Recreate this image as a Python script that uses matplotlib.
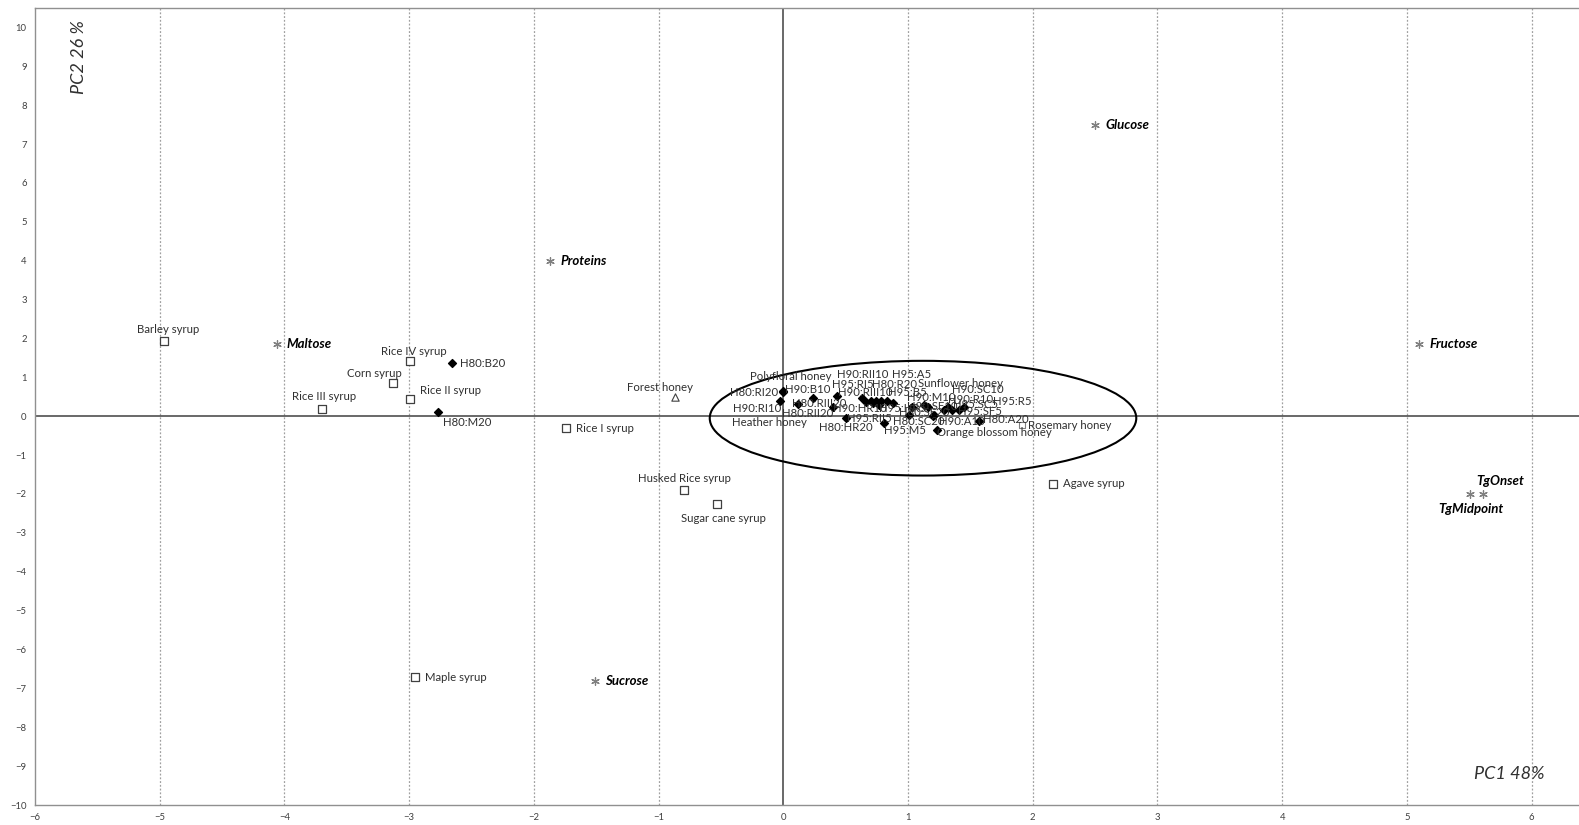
import matplotlib
matplotlib.use("Agg")
import matplotlib.pyplot as plt
from matplotlib.patches import Ellipse

plt.rcParams['font.family'] = ['Lato', 'DejaVu Sans']

# syrups (open squares)
syrup_names = ["Barley syrup", "Rice IV syrup", "Corn syrup", "Rice II syrup", "Rice III syrup",
               "Rice I syrup", "Husked Rice syrup", "Sugar cane syrup", "Agave syrup", "Maple syrup"]
syrup_x = [-4.97, -2.99, -3.13, -2.99, -3.70, -1.74, -0.80, -0.53, 2.16, -2.95]
syrup_y = [1.94, 1.42, 0.85, 0.44, 0.18, -0.31, -1.89, -2.25, -1.74, -6.71]

# other honeys (open marks)
forest_x, forest_y = -0.87, 0.49
rosemary_x, rosemary_y = 1.91, -0.23

# loadings (asterisks)
var_names = ["Glucose", "Proteins", "Maltose", "Fructose", "Sucrose", "TgOnset", "TgMidpoint"]
var_x = [2.50, -1.87, -4.06, 5.10, -1.51, 5.61, 5.51]
var_y = [7.49, 3.99, 1.87, 1.87, -6.81, -1.99, -1.99]

# honeys and honey:syrup blends (filled diamonds)
blend_names = ["H80:B20", "H80:M20",
               "Polyfloral honey", "H80:RI20", "H90:RI10", "Heather honey", "H90:B10",
               "H80:RIII20", "H80:RII20", "H80:HR20", "H90:RII10", "H95:RI5", "H90:RIII10",
               "H80:R20", "H95:A5", "H90:HR10", "H95:RII5", "H95:M5", "H95:HR5", "H95:B5",
               "H80:SC20", "H90:M10", "Sunflower honey", "H90:SF10", "H80:SF20",
               "Orange blossom honey", "H90:SC10", "H90:R10", "H95:SC5", "H95:SF5", "H95:R5",
               "H80:A20", "H90:A10"]
blend_x = [-2.66, -2.77,
           0.00, 0.00, -0.03, 0.12, 0.24,
           0.43, 0.40, 0.50, 0.63, 0.70, 0.74,
           0.78, 0.83, 0.72, 0.66, 0.81, 0.77, 0.88,
           1.01, 1.03, 1.13, 1.16, 1.20,
           1.23, 1.29, 1.32, 1.35, 1.41, 1.45,
           1.57, 1.21]
blend_y = [1.37, 0.10,
           0.66, 0.62, 0.38, 0.31, 0.47,
           0.51, 0.24, -0.05, 0.47, 0.38, 0.38,
           0.38, 0.40, 0.35, 0.36, -0.17, 0.30, 0.33,
           0.04, 0.25, 0.30, 0.25, 0.00,
           -0.35, 0.17, 0.25, 0.17, 0.17, 0.25,
           -0.13, 0.04]

# where each label sits, as (x, y, horizontal alignment)
syrup_lbl = [(-4.93, 2.23, 'center'), (-2.96, 1.66, 'center'), (-3.28, 1.09, 'center'),
             (-2.91, 0.65, 'left'), (-3.68, 0.52, 'center'), (-1.66, -0.31, 'left'),
             (-0.79, -1.61, 'center'), (-0.48, -2.64, 'center'), (2.24, -1.74, 'left'),
             (-2.87, -6.71, 'left')]
var_lbl = [(2.58, 7.49, 'left'), (-1.79, 3.99, 'left'), (-3.98, 1.87, 'left'),
           (5.18, 1.87, 'left'), (-1.43, -6.81, 'left'), (5.94, -1.66, 'right'),
           (5.51, -2.38, 'center')]
blend_lbl = [(-2.59, 1.35, 'left'), (-2.73, -0.16, 'left'),
             (-0.27, 1.02, 'left'), (-0.04, 0.60, 'right'), (-0.02, 0.21, 'right'),
             (-0.41, -0.17, 'left'), (0.01, 0.70, 'left'),
             (0.07, 0.34, 'left'), (-0.01, 0.08, 'left'), (0.29, -0.30, 'left'),
             (0.43, 1.07, 'left'), (0.39, 0.81, 'left'), (0.44, 0.60, 'left'),
             (0.71, 0.81, 'left'), (0.87, 1.07, 'left'), (0.40, 0.19, 'left'),
             (0.51, -0.05, 'left'), (0.81, -0.37, 'left'), (0.77, 0.19, 'left'),
             (0.84, 0.60, 'left'),
             (0.88, -0.13, 'left'), (0.99, 0.47, 'left'), (1.08, 0.84, 'left'),
             (0.99, 0.25, 'left'), (0.93, 0.09, 'left'),
             (1.23, -0.43, 'left'), (1.35, 0.70, 'left'), (1.32, 0.44, 'left'),
             (1.36, 0.30, 'left'), (1.40, 0.12, 'left'), (1.68, 0.38, 'left'),
             (1.60, -0.09, 'left'), (1.25, -0.13, 'left')]

fig = plt.figure(figsize=(15.79, 8.25), dpi=100)
ax = fig.add_axes([0.0222, 0.0242, 0.9778, 0.9661])
ax.set_xlim(-6, 6.38)
ax.set_ylim(-10, 10.5)

# vertical dotted grid and the two zero axes
for gx in range(-5, 7):
    if gx != 0:
        ax.axvline(gx, color='#a0a0a0', lw=0.9, ls=(0, (1.5, 1.5)), zorder=0)
ax.axhline(0, color='#404040', lw=1.1, zorder=1)
ax.axvline(0, color='#404040', lw=1.1, zorder=1)

txt_col = '#303030'
fs = 8.2

ax.scatter(syrup_x, syrup_y, marker='s', s=30, facecolor='white', edgecolor='#404040', lw=0.9, zorder=3)
for name, (lx, ly, ha) in zip(syrup_names, syrup_lbl):
    ax.text(lx, ly, name, fontsize=fs, color=txt_col, ha=ha, va='center')

ax.scatter([forest_x], [forest_y], marker='^', s=28, facecolor='white', edgecolor='#404040', lw=0.8, zorder=3)
ax.text(-0.99, 0.73, "Forest honey", fontsize=fs, color=txt_col, ha='center', va='center')
ax.scatter([rosemary_x], [rosemary_y], marker='s', s=14, facecolor='white', edgecolor='#808080', lw=0.8, zorder=3)
ax.text(1.96, -0.24, "Rosemary honey", fontsize=fs, color=txt_col, ha='left', va='center')

ax.scatter(var_x, var_y, marker=(6, 2, 0), s=30, color='#808080', lw=0.9, zorder=3)
for name, (lx, ly, ha) in zip(var_names, var_lbl):
    ax.text(lx, ly, name, fontsize=9.5, fontweight='bold', fontstyle='italic',
            color='black', ha=ha, va='center')

ax.scatter(blend_x, blend_y, marker='D', s=16, color='black', zorder=4)
for name, (lx, ly, ha) in zip(blend_names, blend_lbl):
    ax.text(lx, ly, name, fontsize=fs, color=txt_col, ha=ha, va='center', zorder=5)

# honey cluster
ax.add_patch(Ellipse((1.12, -0.05), 3.42, 2.95, fill=False, ec='black', lw=1.5, zorder=2))

ax.text(-5.65, 9.25, "PC2 26 %", rotation=90, fontsize=13, fontstyle='italic',
        color=txt_col, ha='center', va='center')
ax.text(6.1, -9.2, "PC1 48%", fontsize=13, fontstyle='italic', color=txt_col,
        ha='right', va='center')

ax.set_xticks(range(-6, 7))
ax.set_yticks(range(-10, 11))
ax.tick_params(length=0, labelsize=6.8, labelcolor='#404040', pad=6)
for s in ['left', 'bottom', 'top']:
    ax.spines[s].set_color('#909090')
    ax.spines[s].set_linewidth(1.0)
ax.spines['right'].set_visible(False)

fig.savefig("out.png", dpi=100)
